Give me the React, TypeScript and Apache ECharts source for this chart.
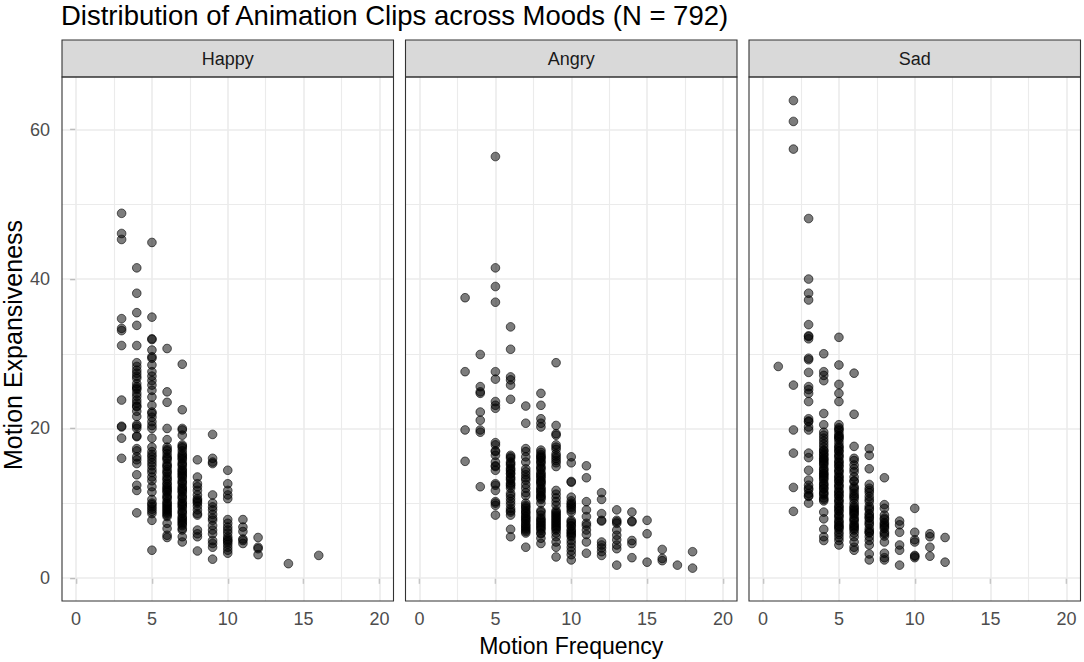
import React, { useEffect, useRef } from "react";
import * as echarts from "echarts";

const TITLE = "Distribution of Animation Clips across Moods (N = 792)";
const MOODS = ["Happy", "Angry", "Sad"];
const X_TITLE = "Motion Frequency";
const Y_TITLE = "Motion Expansiveness";
const X_TICKS = [0, 5, 10, 15, 20];
const X_MINOR = [2.5, 7.5, 12.5, 17.5];
const Y_TICKS = [0, 20, 40, 60];
const Y_MINOR = [10, 30, 50];

// [motion frequency, list of motion expansiveness values]
const HAPPY: [number, number[]][] = [
  [3, [48.8, 46.1, 45.3, 34.7, 33.4, 33.1, 31.1, 23.8, 20.3, 20.2, 18.7, 16.0]],
  [4, [41.5, 38.1, 35.5, 33.8, 31.1, 28.8, 28.3, 27.8, 27.4, 27.0, 26.7, 26.0, 25.6, 25.4, 25.2, 24.7, 24.3, 23.8, 23.4, 23.0, 22.9, 22.3, 21.6, 20.5, 20.3, 20.0, 19.0, 18.9, 17.3, 17.0, 16.2, 15.8, 15.3, 13.8, 12.4, 11.7, 8.7]],
  [5, [44.9, 34.9, 32.0, 31.9, 30.5, 29.6, 29.4, 28.5, 27.6, 27.0, 26.4, 25.8, 25.1, 24.2, 23.1, 22.2, 22.0, 21.5, 20.9, 20.4, 20.0, 18.7, 17.5, 16.9, 16.5, 16.2, 15.8, 15.4, 15.0, 14.5, 14.1, 13.5, 13.0, 12.2, 11.5, 10.5, 10.0, 9.8, 9.5, 9.2, 8.9, 8.6, 7.7, 3.7]],
  [6, [30.7, 24.9, 23.5, 20.0, 18.5, 17.5, 17.2, 17.0, 16.6, 16.2, 16.0, 15.8, 15.3, 15.0, 14.9, 14.5, 14.2, 14.0, 13.6, 13.3, 13.1, 12.7, 12.5, 12.2, 12.0, 11.8, 11.6, 11.4, 11.0, 10.8, 10.6, 10.2, 10.0, 9.8, 9.6, 9.4, 9.2, 9.0, 8.8, 8.6, 8.4, 8.2, 7.3, 6.6, 5.7, 5.4]],
  [7, [28.6, 22.5, 20.0, 19.8, 19.1, 17.8, 17.6, 17.4, 17.0, 16.6, 16.4, 16.2, 16.0, 15.8, 15.4, 15.2, 15.0, 14.6, 14.4, 14.2, 14.0, 13.8, 13.6, 13.4, 13.0, 12.8, 12.6, 12.2, 12.0, 11.8, 11.6, 11.4, 11.0, 10.8, 10.6, 10.2, 10.0, 9.8, 9.6, 9.4, 9.0, 8.8, 8.6, 8.2, 8.0, 7.8, 7.6, 7.4, 7.2, 7.0, 6.6, 6.4, 5.5, 4.8]],
  [8, [15.8, 13.5, 12.6, 12.2, 11.7, 11.1, 10.6, 10.4, 10.2, 10.0, 9.6, 9.1, 8.6, 8.4, 6.4, 5.9, 5.5, 3.6]],
  [9, [19.2, 16.0, 15.5, 15.3, 11.1, 10.0, 9.5, 9.1, 8.5, 8.0, 7.7, 7.0, 6.4, 5.9, 5.0, 4.6, 4.1, 2.5]],
  [10, [14.4, 12.6, 11.7, 11.1, 10.6, 7.8, 7.3, 6.8, 6.4, 6.0, 5.5, 5.2, 5.0, 4.8, 4.5, 4.1, 3.7, 3.3]],
  [11, [7.8, 6.8, 6.2, 5.2, 5.0, 4.6]],
  [12, [5.4, 4.1, 3.9, 3.1]],
  [14, [1.9]],
  [16, [3.0]],
];

const ANGRY: [number, number[]][] = [
  [3, [37.5, 27.6, 19.8, 15.6]],
  [4, [29.9, 25.6, 24.9, 24.7, 22.2, 21.1, 19.8, 19.5, 12.2]],
  [5, [56.4, 41.5, 39.0, 36.9, 27.6, 26.6, 23.6, 23.1, 22.7, 18.1, 17.8, 17.0, 16.9, 16.4, 15.5, 15.0, 14.9, 14.4, 12.6, 12.4, 11.7, 10.2, 10.0, 9.7, 8.4]],
  [6, [33.6, 30.6, 26.9, 26.5, 25.8, 23.9, 16.4, 16.2, 16.0, 15.5, 15.3, 15.1, 14.7, 14.5, 14.3, 14.0, 13.9, 13.5, 13.3, 13.1, 12.7, 12.5, 12.3, 12.0, 11.3, 11.0, 10.6, 10.2, 9.8, 9.3, 9.0, 8.8, 8.4, 6.5, 5.5]],
  [7, [23.0, 20.7, 17.3, 16.9, 16.2, 15.5, 14.6, 14.2, 13.8, 13.4, 13.1, 12.5, 12.0, 11.4, 11.0, 10.0, 9.7, 9.5, 9.3, 9.0, 8.8, 8.6, 8.3, 8.1, 7.9, 7.7, 7.5, 7.2, 7.0, 6.8, 6.6, 6.4, 6.2, 6.0, 4.1]],
  [8, [24.7, 23.1, 21.3, 20.7, 20.2, 17.1, 16.8, 16.5, 16.3, 16.1, 16.0, 15.7, 15.5, 15.3, 14.9, 14.7, 14.5, 14.1, 13.9, 13.7, 13.5, 13.3, 13.0, 12.9, 12.7, 12.5, 12.1, 11.9, 11.7, 11.5, 11.3, 11.0, 10.9, 10.7, 10.5, 10.0, 9.0, 8.8, 8.4, 8.0, 7.8, 7.6, 7.4, 7.2, 7.0, 6.8, 6.6, 6.4, 6.0, 5.9, 5.3, 4.6]],
  [9, [28.8, 20.4, 19.3, 19.1, 17.8, 17.5, 17.2, 16.6, 16.3, 16.0, 15.7, 15.4, 14.9, 11.7, 11.2, 10.7, 10.2, 9.7, 9.0, 8.8, 8.6, 8.4, 8.2, 8.0, 7.8, 7.6, 7.4, 7.2, 7.0, 6.8, 6.6, 6.4, 6.0, 5.5, 4.8, 4.1, 2.8]],
  [10, [16.2, 15.4, 12.9, 12.8, 10.8, 10.3, 10.0, 9.8, 9.6, 9.4, 9.1, 8.8, 7.7, 7.5, 7.3, 7.0, 6.9, 6.5, 6.3, 6.1, 5.9, 5.7, 5.5, 5.0, 4.6, 4.1, 3.6, 3.1, 2.4]],
  [11, [15.0, 13.4, 10.2, 9.1, 8.2, 7.3, 7.0, 6.4, 5.8, 4.8, 3.3]],
  [12, [11.4, 10.5, 8.6, 7.7, 7.6, 4.8, 4.4, 4.0, 3.5, 3.0]],
  [13, [9.1, 7.7, 7.5, 7.3, 6.4, 5.7, 5.1, 4.4, 3.9, 1.7]],
  [14, [8.8, 7.6, 7.5, 5.0, 4.6, 2.7]],
  [15, [7.7, 5.9, 2.1]],
  [16, [3.8, 2.6, 2.3]],
  [17, [1.7]],
  [18, [3.5, 1.3]],
];

const SAD: [number, number[]][] = [
  [1, [28.3]],
  [2, [63.9, 61.1, 57.4, 25.8, 19.8, 16.7, 12.1, 8.9]],
  [3, [48.1, 40.0, 38.1, 37.2, 33.9, 32.4, 32.3, 32.0, 29.4, 29.2, 27.5, 25.6, 25.2, 24.7, 23.6, 21.3, 21.0, 20.9, 20.2, 19.8, 16.7, 16.1, 14.4, 13.1, 12.4, 12.0, 11.8, 11.3, 11.0, 10.9, 10.0]],
  [4, [30.0, 27.6, 27.1, 26.4, 22.0, 20.5, 19.5, 19.1, 18.7, 18.3, 17.9, 17.5, 17.1, 17.0, 16.7, 16.5, 16.3, 16.0, 15.9, 15.7, 15.5, 15.3, 15.1, 14.7, 14.5, 14.3, 14.0, 13.9, 13.7, 13.5, 13.3, 13.1, 12.7, 12.5, 12.3, 12.0, 11.9, 11.5, 11.3, 11.1, 10.7, 10.5, 10.3, 8.8, 7.9, 6.5, 5.5, 5.0]],
  [5, [32.2, 28.5, 25.9, 24.7, 23.6, 20.5, 20.1, 19.9, 19.7, 19.3, 19.0, 18.9, 18.7, 18.5, 18.1, 17.7, 17.5, 17.3, 17.0, 16.9, 16.5, 16.3, 16.1, 15.7, 15.5, 15.3, 15.0, 14.9, 14.5, 14.3, 14.1, 13.7, 13.5, 13.3, 13.0, 12.9, 12.5, 12.3, 12.1, 11.7, 11.5, 11.3, 11.0, 10.9, 10.5, 10.3, 10.1, 9.7, 9.5, 9.3, 9.0, 8.9, 8.5, 8.3, 8.1, 7.7, 7.5, 7.3, 7.0, 6.9, 6.7, 6.5, 6.1, 5.8, 5.4, 5.0, 4.4]],
  [6, [27.4, 21.9, 17.6, 16.0, 15.7, 15.1, 14.6, 14.2, 13.5, 13.0, 12.9, 12.2, 12.0, 11.7, 11.3, 11.0, 10.8, 10.5, 10.0, 9.6, 9.4, 9.2, 9.0, 8.8, 8.6, 8.4, 8.0, 7.8, 7.6, 7.2, 7.0, 6.8, 6.6, 6.4, 6.0, 5.5, 4.8, 4.1, 3.7]],
  [7, [17.3, 16.4, 14.6, 12.5, 12.0, 11.7, 11.4, 10.9, 10.5, 10.2, 9.6, 9.3, 9.1, 8.6, 8.4, 8.1, 8.0, 7.6, 7.3, 7.1, 6.6, 6.3, 6.1, 6.0, 5.5, 5.0, 4.4, 3.2, 2.4]],
  [8, [13.4, 9.8, 9.3, 8.4, 8.0, 7.8, 7.4, 7.2, 7.0, 6.8, 6.6, 6.1, 5.9, 5.6, 4.8, 3.3, 2.7, 2.4]],
  [9, [7.6, 7.1, 6.1, 4.4, 3.7, 1.7]],
  [10, [9.3, 6.1, 5.1, 4.8, 3.0, 2.9, 2.7]],
  [11, [5.9, 5.5, 4.1, 2.9]],
  [12, [5.4, 2.1]],
];

const PANEL_DATA = [HAPPY, ANGRY, SAD];

const FONT = '"Liberation Sans", Arial, sans-serif';
const PANEL_LEFTS = [62, 405.5, 749];
const PANEL_W = 331.5;
const PANEL_TOP = 77;
const PANEL_H = 524;
const STRIP_TOP = 40;

function flatten(groups: [number, number[]][]): [number, number][] {
  const out: [number, number][] = [];
  groups.forEach(([x, ys]) => ys.forEach((y) => out.push([x, y])));
  return out;
}

export default function App() {
  const ref = useRef<HTMLDivElement>(null);

  useEffect(() => {
    if (!ref.current) return;
    const chart = echarts.init(ref.current, null, { renderer: "svg" });

    const grids = PANEL_LEFTS.map((left) => ({
      left,
      top: PANEL_TOP,
      width: PANEL_W,
      height: PANEL_H,
      show: true,
      backgroundColor: "#FFFFFF",
      borderWidth: 0,
    }));

    const xAxes = PANEL_LEFTS.map((_, i) => ({
      type: "value",
      gridIndex: i,
      min: -0.93,
      max: 20.93,
      axisLine: { show: false },
      splitLine: { show: false },
      axisTick: {
        show: true,
        customValues: X_TICKS,
        length: 6,
        lineStyle: { color: "#333333", width: 1.2 },
      },
      axisLabel: {
        show: true,
        customValues: X_TICKS,
        margin: 9,
        color: "#4D4D4D",
        fontSize: 18,
        fontFamily: FONT,
      },
      name: i === 1 ? X_TITLE : "",
      nameLocation: "middle",
      nameGap: 33,
      nameTextStyle: { fontSize: 23, color: "#000000", fontFamily: FONT },
    }));

    const yAxes = PANEL_LEFTS.map((_, i) => ({
      type: "value",
      gridIndex: i,
      min: -3.1,
      max: 67.05,
      axisLine: { show: false },
      splitLine: { show: false },
      axisTick: {
        show: i === 0,
        customValues: Y_TICKS,
        length: 6,
        lineStyle: { color: "#333333", width: 1.2 },
      },
      axisLabel: {
        show: i === 0,
        customValues: Y_TICKS,
        margin: 12,
        color: "#4D4D4D",
        fontSize: 18,
        fontFamily: FONT,
      },
    }));

    const gridLineSeries = PANEL_LEFTS.map((_, i) => ({
      type: "scatter",
      xAxisIndex: i,
      yAxisIndex: i,
      data: [],
      silent: true,
      z: 1,
      markLine: {
        silent: true,
        z: 1,
        symbol: ["none", "none"],
        label: { show: false },
        lineStyle: { color: "#EBEBEB", type: "solid", width: 1.6 },
        data: [
          ...X_MINOR.map((v) => ({ xAxis: v, lineStyle: { width: 1.1 } })),
          ...Y_MINOR.map((v) => ({ yAxis: v, lineStyle: { width: 1.1 } })),
          ...X_TICKS.map((v) => ({ xAxis: v })),
          ...Y_TICKS.map((v) => ({ yAxis: v })),
        ],
      },
    }));

    const pointSeries = PANEL_DATA.map((groups, i) => ({
      type: "scatter",
      name: MOODS[i],
      xAxisIndex: i,
      yAxisIndex: i,
      z: 10,
      symbol: "circle",
      symbolSize: 8.6,
      data: flatten(groups),
      itemStyle: {
        color: "rgba(0,0,0,0.64)",
        borderColor: "rgba(0,0,0,0.88)",
        borderWidth: 0.9,
      },
      emphasis: { disabled: true },
    }));

    const graphics: any[] = [];
    PANEL_LEFTS.forEach((left, i) => {
      graphics.push({
        type: "rect",
        z: 100,
        shape: { x: left, y: STRIP_TOP, width: PANEL_W, height: PANEL_TOP - STRIP_TOP },
        style: { fill: "#D9D9D9", stroke: "#333333", lineWidth: 1.1 },
      });
      graphics.push({
        type: "text",
        z: 101,
        x: left + PANEL_W / 2,
        y: (STRIP_TOP + PANEL_TOP) / 2,
        style: {
          text: MOODS[i],
          font: `18px ${FONT}`,
          fill: "#1A1A1A",
          textAlign: "center",
          textVerticalAlign: "middle",
          align: "center",
          verticalAlign: "middle",
        },
      });
      graphics.push({
        type: "rect",
        z: 100,
        shape: { x: left, y: PANEL_TOP, width: PANEL_W, height: PANEL_H },
        style: { fill: "none", stroke: "#333333", lineWidth: 1.1 },
      });
    });
    graphics.push({
      type: "text",
      z: 101,
      x: 13,
      y: 345,
      rotation: Math.PI / 2,
      style: {
        text: Y_TITLE,
        font: `25px ${FONT}`,
        fill: "#000000",
        textAlign: "center",
        textVerticalAlign: "middle",
        align: "center",
        verticalAlign: "middle",
      },
    });

    chart.setOption({
      animation: false,
      backgroundColor: "#FFFFFF",
      title: {
        text: TITLE,
        left: 61,
        top: 1,
        padding: 0,
        textStyle: { fontSize: 27.5, fontWeight: "normal", color: "#000000", fontFamily: FONT },
      },
      grid: grids,
      xAxis: xAxes,
      yAxis: yAxes,
      series: [...gridLineSeries, ...pointSeries],
      graphic: graphics,
    });

    return () => chart.dispose();
  }, []);

  return (
    <div
      ref={ref}
      style={{ position: "fixed", left: 0, top: 0, width: 1084, height: 662, background: "#fff" }}
    />
  );
}
